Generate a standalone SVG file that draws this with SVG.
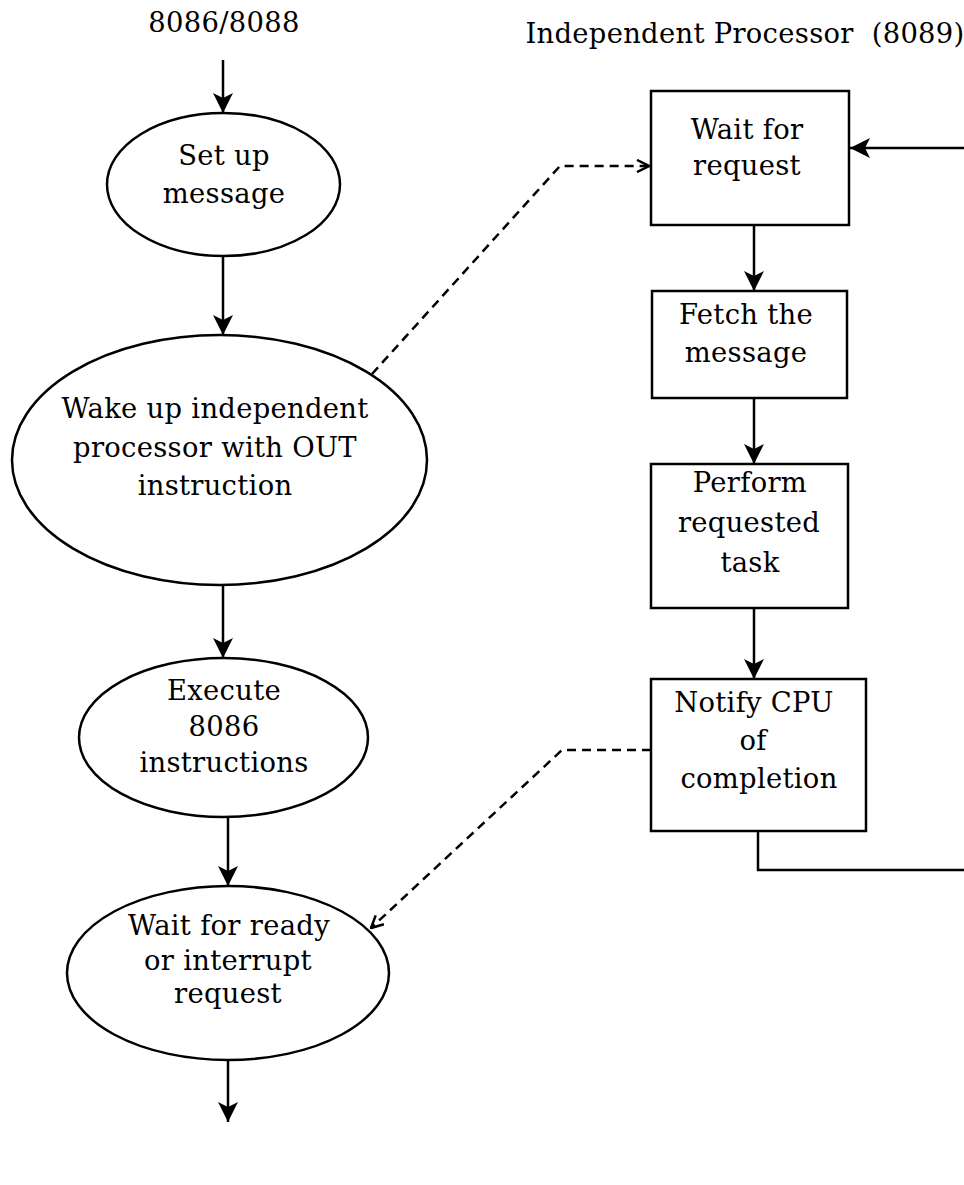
<svg xmlns="http://www.w3.org/2000/svg" width="964" height="1185" viewBox="0 0 964 1185">
<style>
  .t text { font-family: "DejaVu Serif", serif; font-size: 27.4px; letter-spacing: 0.3px; fill: #000; text-anchor: middle; }
  .shape { fill: #fff; stroke: #000; stroke-width: 2.5; }
  .conn { fill: none; stroke: #000; stroke-width: 2.5; }
  .dash { fill: none; stroke: #000; stroke-width: 2.5; stroke-dasharray: 9 6; }
</style>
<defs>
  <marker id="arr" viewBox="0 0 20 20" refX="20" refY="10" markerWidth="20" markerHeight="20" markerUnits="userSpaceOnUse" orient="auto">
    <path d="M0,0 L20,10 L0,20 L5,10 z" fill="#000"/>
  </marker>
  <marker id="open" viewBox="0 0 14 14" refX="13" refY="7" markerWidth="14" markerHeight="14" markerUnits="userSpaceOnUse" orient="auto">
    <path d="M1,1 L13,7 L1,13" fill="none" stroke="#000" stroke-width="2.5"/>
  </marker>
</defs>
<rect width="964" height="1185" fill="#fff"/>

<g class="t">

<g id="titles">
  <text x="224" y="32">8086/8088</text>
  <text x="745" y="43" style="white-space:pre">Independent Processor  (8089)</text>
</g>

<g id="connectors">
  <path class="conn" d="M223,60 L223,113" marker-end="url(#arr)"/>
  <path class="conn" d="M223,256 L223,335" marker-end="url(#arr)"/>
  <path class="conn" d="M223,585 L223,658" marker-end="url(#arr)"/>
  <path class="conn" d="M228,817 L228,886" marker-end="url(#arr)"/>
  <path class="conn" d="M228,1060 L228,1122" marker-end="url(#arr)"/>
  <path class="dash" d="M372,374 L560,166 L649,166" marker-end="url(#open)"/>
  <path class="conn" d="M754,225 L754,291" marker-end="url(#arr)"/>
  <path class="conn" d="M754,398 L754,464" marker-end="url(#arr)"/>
  <path class="conn" d="M754,608 L754,679" marker-end="url(#arr)"/>
  <path class="dash" d="M651,750 L562,750 L371,928" marker-end="url(#open)"/>
  <path class="conn" d="M758,831 L758,870 L967,870 L967,148 L850,148" marker-end="url(#arr)"/>
</g>

<g id="setup">
  <ellipse class="shape" cx="223.5" cy="184.5" rx="116.5" ry="71.5"/>
  <text x="224" y="165">Set up</text>
  <text x="224" y="203">message</text>
</g>

<g id="wakeup">
  <ellipse class="shape" cx="219.5" cy="460" rx="207.5" ry="125"/>
  <text x="215" y="418">Wake up independent</text>
  <text x="215" y="457">processor with OUT</text>
  <text x="215" y="495">instruction</text>
</g>

<g id="execute">
  <ellipse class="shape" cx="223.5" cy="737.5" rx="144.5" ry="79.5"/>
  <text x="224" y="700">Execute</text>
  <text x="224" y="736">8086</text>
  <text x="224" y="772">instructions</text>
</g>

<g id="waitready">
  <ellipse class="shape" cx="228" cy="973" rx="161" ry="87"/>
  <text x="229" y="935">Wait for ready</text>
  <text x="228" y="970">or interrupt</text>
  <text x="228" y="1003">request</text>
</g>

<g id="waitrequest">
  <rect class="shape" x="651" y="91" width="198" height="134"/>
  <text x="747" y="139">Wait for</text>
  <text x="747" y="175">request</text>
</g>

<g id="fetch">
  <rect class="shape" x="652" y="291" width="195" height="107"/>
  <text x="746" y="324">Fetch the</text>
  <text x="746" y="362">message</text>
</g>

<g id="perform">
  <rect class="shape" x="651" y="464" width="197" height="144"/>
  <text x="750" y="492">Perform</text>
  <text x="749" y="532">requested</text>
  <text x="750" y="572">task</text>
</g>

<g id="notify">
  <rect class="shape" x="651" y="679" width="215" height="152"/>
  <text x="754" y="712">Notify CPU</text>
  <text x="753" y="750">of</text>
  <text x="759" y="788">completion</text>
</g>

</g>
</svg>
